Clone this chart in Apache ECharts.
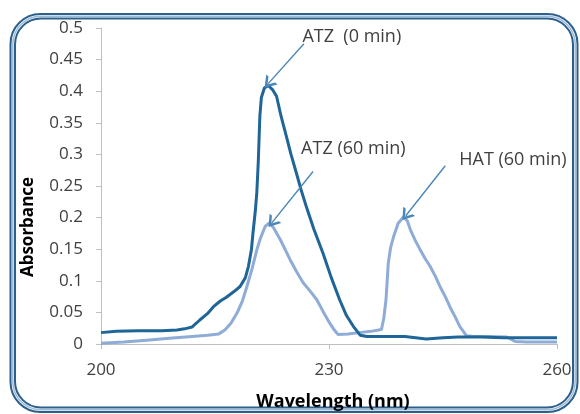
<!DOCTYPE html>
<html>
<head>
  <meta charset="UTF-8">
  <title>Absorbance spectra</title>
  <script src="https://cdn.jsdelivr.net/npm/echarts@6/dist/echarts.min.js"></script>
  <style>
    html, body { margin: 0; padding: 0; background: #fff; }
    #chart { width: 580px; height: 414px; }
  </style>
</head>
<body>
<div id="chart"></div>
<script type="text/javascript">
  // ATZ (0 min) - dark line
  var atz0Wavelength = [200, 202, 205, 208, 210, 211, 212, 213, 214, 214.8, 215.7, 216.5, 217.5, 218.3, 219, 219.4, 219.8, 220, 220.3, 220.5, 220.7, 220.9, 221.1, 221.5, 222, 222.6, 223.1, 223.7, 224.4, 225, 225.7, 226.3, 227, 228, 229.2, 230.3, 231.4, 232.3, 233.2, 234.1, 235, 237, 240, 242.8, 245, 247, 250, 253, 256, 260];
  var atz0Absorbance = [0.018, 0.02, 0.021, 0.021, 0.022, 0.024, 0.027, 0.038, 0.048, 0.059, 0.068, 0.074, 0.083, 0.091, 0.105, 0.123, 0.15, 0.176, 0.21, 0.239, 0.29, 0.36, 0.39, 0.405, 0.409, 0.402, 0.392, 0.36, 0.328, 0.3, 0.271, 0.245, 0.218, 0.182, 0.144, 0.105, 0.07, 0.045, 0.028, 0.014, 0.012, 0.012, 0.012, 0.008, 0.01, 0.011, 0.011, 0.01, 0.01, 0.01];

  // ATZ (60 min) + HAT (60 min) - light line
  var t60Wavelength = [200, 203, 206, 209, 212, 214, 215.5, 216.3, 217.1, 217.9, 218.6, 219.2, 219.9, 220.5, 221, 221.6, 222.2, 222.8, 223.6, 224.9, 225.7, 226.6, 227.5, 228.4, 229.2, 230.1, 230.7, 231.2, 232.5, 234, 235.5, 236.9, 237.2, 237.5, 237.8, 238.1, 238.5, 239.1, 239.8, 240.3, 240.7, 241.3, 242, 242.6, 243.3, 244, 244.6, 245.3, 245.9, 246.6, 247.2, 248.1, 249, 251, 253.4, 254.5, 256, 258, 260];
  var t60Absorbance = [0.001, 0.003, 0.006, 0.009, 0.012, 0.014, 0.016, 0.022, 0.033, 0.049, 0.068, 0.091, 0.12, 0.149, 0.168, 0.186, 0.192, 0.182, 0.165, 0.133, 0.115, 0.097, 0.084, 0.07, 0.052, 0.033, 0.022, 0.015, 0.016, 0.018, 0.02, 0.023, 0.04, 0.07, 0.128, 0.152, 0.17, 0.191, 0.201, 0.195, 0.181, 0.165, 0.149, 0.136, 0.123, 0.107, 0.091, 0.075, 0.059, 0.043, 0.028, 0.013, 0.012, 0.012, 0.011, 0.004, 0.003, 0.003, 0.003];

  // annotations: label position, arrow start, arrow tip (data coords)
  var noteTexts = ['ATZ  (0 min)', 'ATZ (60 min)', 'HAT (60 min)'];
  var notePos = [[233.0, 0.486], [233.2, 0.308], [254.2, 0.292]];
  var arrowFrom = [[226.7, 0.475], [227.9, 0.273], [245.3, 0.282]];
  var arrowTo = [[222.0, 0.412], [222.5, 0.192], [240.1, 0.203]];

  var xTicks = [200, 260, 30];      // min, max, interval
  var yTicks = [0, 0.5, 0.05];

  function zip(xs, ys) {
    return xs.map(function (x, i) { return [x, ys[i]]; });
  }

  var chart = echarts.init(document.getElementById('chart'));
  var font = 'Open Sans';
  var textCol = '#404040';
  var axisCol = '#bfbfbf';
  var frameCol = '#2b5f8c';

  chart.setOption({
    animation: false,
    backgroundColor: '#fff',
    grid: { left: 101, right: 23, top: 28, bottom: 70 },
    xAxis: {
      type: 'value',
      min: xTicks[0], max: xTicks[1], interval: xTicks[2],
      axisLine: { show: true, lineStyle: { color: axisCol, width: 1 } },
      axisTick: { show: true, length: 5, lineStyle: { color: axisCol } },
      axisLabel: { color: textCol, fontFamily: font, fontSize: 17, margin: 18 },
      splitLine: { show: false }
    },
    yAxis: {
      type: 'value',
      min: yTicks[0], max: yTicks[1], interval: yTicks[2],
      axisLine: { show: true, lineStyle: { color: axisCol, width: 1 } },
      axisTick: { show: true, length: 5, lineStyle: { color: axisCol } },
      axisLabel: { color: textCol, fontFamily: font, fontSize: 17, margin: 18 },
      splitLine: { show: false }
    },
    graphic: [
      { type: 'rect', shape: { x: 10.5, y: 14, width: 567, height: 398, r: 30 },
        style: { fill: null, stroke: frameCol, lineWidth: 2 } },
      { type: 'rect', shape: { x: 12.8, y: 16.3, width: 562.4, height: 393.4, r: 28 },
        style: { fill: null, stroke: '#9dbbd6', lineWidth: 1.5 } },
      { type: 'rect', shape: { x: 15, y: 18.5, width: 558, height: 389, r: 26 },
        style: { fill: null, stroke: frameCol, lineWidth: 2 } },
      { type: 'text', x: 28, y: 227, rotation: Math.PI / 2,
        style: { text: 'Absorbance', fill: '#000', font: 'bold 17px "Open Sans"', align: 'center', verticalAlign: 'middle' } },
      { type: 'text', x: 333, y: 402,
        style: { text: 'Wavelength (nm)', fill: '#000', font: 'bold 18px "Open Sans"', align: 'center', verticalAlign: 'middle' } }
    ],
    series: [
      {
        name: 'ATZ (0 min)',
        type: 'line',
        data: zip(atz0Wavelength, atz0Absorbance),
        showSymbol: false,
        lineStyle: { color: '#1f6598', width: 3 },
        z: 3
      },
      {
        name: 'ATZ/HAT (60 min)',
        type: 'line',
        data: zip(t60Wavelength, t60Absorbance),
        showSymbol: false,
        lineStyle: { color: '#8eacd6', width: 3 },
        z: 2,
        markLine: {
          silent: true,
          z: 5,
          symbol: ['none', 'path://M5,0 L10,8 L8,8 L5,3.2 L2,8 L0,8 Z'],
          symbolSize: [15, 11],
          lineStyle: { color: '#4a86b8', width: 1.4, type: 'solid' },
          label: { show: false },
          data: arrowFrom.map(function (p, i) {
            return [{ coord: p }, { coord: arrowTo[i] }];
          })
        },
        markPoint: {
          silent: true,
          symbol: 'circle',
          symbolSize: 0,
          label: {
            show: true, position: 'inside', color: textCol,
            fontFamily: font, fontSize: 18,
            formatter: function (p) { return p.name; }
          },
          data: notePos.map(function (p, i) {
            return { name: noteTexts[i], coord: p };
          })
        }
      }
    ]
  });
</script>
</body>
</html>
